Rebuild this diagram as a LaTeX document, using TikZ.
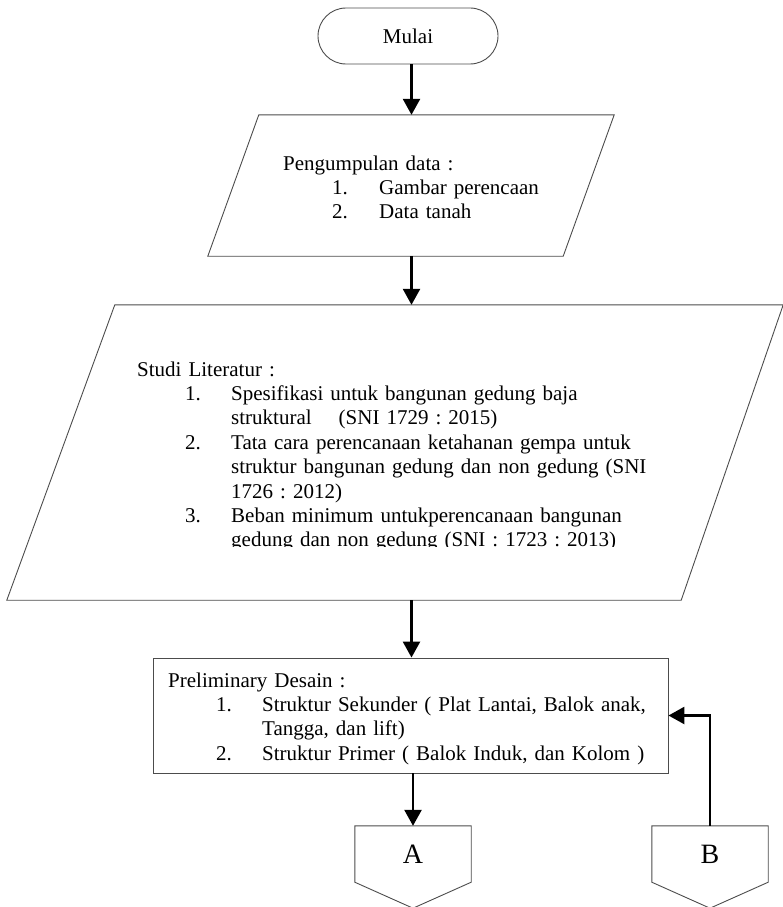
\documentclass[tikz,border=0pt]{standalone}
\usepackage{fontspec}
\setmainfont{Liberation Serif}
\usetikzlibrary{arrows.meta}
\begin{document}
\frenchspacing
\begin{tikzpicture}[x=1pt,y=-1pt,
  outline/.style={draw=black!70,line width=0.9pt},
  arr/.style={line width=2.6pt,-{Triangle[length=16pt,width=17pt]}},
  txt/.style={inner sep=0pt,anchor=base west,align=left,text width=640pt,
    font=\fontsize{21}{24.4}\selectfont},
  box/.style={inner sep=0pt},
  conn/.style={inner sep=0pt,minimum width=116pt,minimum height=56pt,
    font=\fontsize{28}{30}\selectfont}
]
\useasboundingbox (0,0) rectangle (783,907);
\coordinate (ax) at (411.5,0);

% Start
\node[outline,rounded corners=28pt,minimum width=180pt,minimum height=56pt,
  inner sep=0pt,font=\fontsize{21}{24}\selectfont] (mulai) at (408,36) {Mulai};

% Parallelogram 1
\node[box,minimum width=406pt,minimum height=141pt] (p1) at (411,185.5) {};
\draw[outline] ([xshift=51pt]p1.north west) -- (p1.north east)
  -- ([xshift=-51pt]p1.south east) -- (p1.south west) -- cycle;
\node[txt] (t1) at (283,170) {Pengumpulan data :\\
\hspace*{49pt}\makebox[47pt][l]{1.}Gambar perencaan\\
\hspace*{49pt}\makebox[47pt][l]{2.}Data tanah};

% Parallelogram 2
\node[box,minimum width=776pt,minimum height=295pt] (p2) at (395,452.5) {};
\draw[outline] ([xshift=108pt]p2.north west) -- (p2.north east)
  -- ([xshift=-102pt]p2.south east) -- (p2.south west) -- cycle;
\begin{scope}
\clip (0,300) rectangle (783,546.5);
\node[txt] (t2) at (137,376) {Studi Literatur :\\
\hspace*{48pt}\makebox[46pt][l]{1.}Spesifikasi untuk bangunan gedung baja\\
\hspace*{94pt}struktural\hspace{27pt}(SNI 1729 : 2015)\\
\hspace*{48pt}\makebox[46pt][l]{2.}Tata cara perencanaan ketahanan gempa untuk\\
\hspace*{94pt}struktur bangunan gedung dan non gedung (SNI\\
\hspace*{94pt}1726 : 2012)\\
\hspace*{48pt}\makebox[46pt][l]{3.}Beban minimum untukperencanaan bangunan\\
\hspace*{94pt}gedung dan non gedung (SNI : 1723 : 2013)};
\end{scope}

% Rectangle
\node[outline,inner sep=0pt,minimum width=515pt,minimum height=115pt] (rect) at (410.5,715.5) {};
\node[txt] (t3) at (168,687) {Preliminary Desain :\\
\hspace*{48pt}\makebox[46pt][l]{1.}Struktur Sekunder ( Plat Lantai, Balok anak,\\
\hspace*{94pt}Tangga, dan lift)\\
\hspace*{48pt}\makebox[46pt][l]{2.}Struktur Primer ( Balok Induk, dan Kolom )};

% Off-page connectors
\node[conn] (A) at (413,854) {A};
\draw[outline] (A.north west) -- (A.north east) -- (A.south east)
  -- ([yshift=-26pt]A.south) -- (A.south west) -- cycle;
\node[conn] (B) at (710,854) {B};
\draw[outline] (B.north west) -- (B.north east) -- (B.south east)
  -- ([yshift=-26pt]B.south) -- (B.south west) -- cycle;

% Connectors
\draw[arr] (mulai.south -| ax) -- (p1.north -| ax);
\draw[arr] (p1.south -| ax) -- (p2.north -| ax);
\draw[arr] (p2.south -| ax) -- (rect.north -| ax);
\draw[arr] (rect.south -| A.north) -- (A.north);
\draw[arr] (B.north) |- (rect.east);
\end{tikzpicture}
\end{document}
